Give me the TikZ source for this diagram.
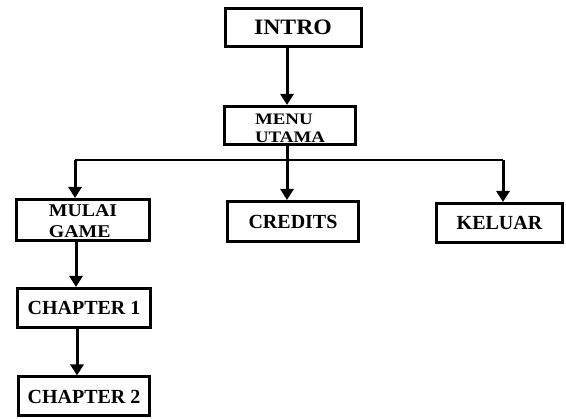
\documentclass[tikz,border=0pt]{standalone}
\usepackage{fontspec}
\usepackage{graphicx}
\setmainfont{Liberation Serif}
\usetikzlibrary{arrows.meta}
\newcommand{\hs}[3]{\raisebox{#2}[\height][\depth]{\scalebox{#1}[1]{#3}}}
\begin{document}
\begin{tikzpicture}[x=1pt,y=-1pt,
  boxnode/.style={draw=black,line width=3pt,rectangle,inner sep=0pt,
    font=\fontsize{20}{21}\selectfont\bfseries,align=left},
  arr/.style={line width=3pt,-{Triangle[width=13pt,length=11pt]}},
  joinline/.style={line width=2.5pt}]
\useasboundingbox (0,0) rectangle (566,419);
\node[boxnode,minimum width=136pt,minimum height=38pt,font=\fontsize{22}{24}\selectfont\bfseries] (intro) at (293,27.5) {\hs{1.08}{0pt}{INTRO}};
\node[boxnode,minimum width=131pt,minimum height=38pt,font=\fontsize{16}{18}\selectfont\bfseries] (menu) at (290,125.5) {\hs{1.18}{-2.5pt}{MENU}\\\hs{1.18}{-2.5pt}{UTAMA}};
\node[boxnode,minimum width=133pt,minimum height=41pt,font=\fontsize{18}{20.5}\selectfont\bfseries] (mulai) at (83,220) {\hs{1.1}{-1pt}{MULAI}\\\hs{1.1}{-1pt}{GAME}};
\node[boxnode,minimum width=131pt,minimum height=40pt] (credits) at (293,221.5) {CREDITS};
\node[boxnode,minimum width=126pt,minimum height=39pt] (keluar) at (499.5,223) {KELUAR};
\node[boxnode,minimum width=133pt,minimum height=39pt] (ch1) at (84,308) {CHAPTER 1};
\node[boxnode,minimum width=131pt,minimum height=39pt] (ch2) at (84,396.5) {CHAPTER 2};
\coordinate (hub) at (287,160);
\coordinate (la) at (75,160);
\coordinate (ra) at (503,160);
\draw[arr] (intro.south -| hub) -- (menu.north -| hub);
\draw[arr] (menu.south -| hub) -- (credits.north -| hub);
\draw[joinline] (la) -- (ra);
\draw[arr] (la) -- (mulai.north -| la);
\draw[arr] (ra) -- (keluar.north -| ra);
\coordinate (c1) at (76,0);
\coordinate (c2) at (77,0);
\draw[arr] (mulai.south -| c1) -- (ch1.north -| c1);
\draw[arr] (ch1.south -| c2) -- (ch2.north -| c2);
\end{tikzpicture}
\end{document}
